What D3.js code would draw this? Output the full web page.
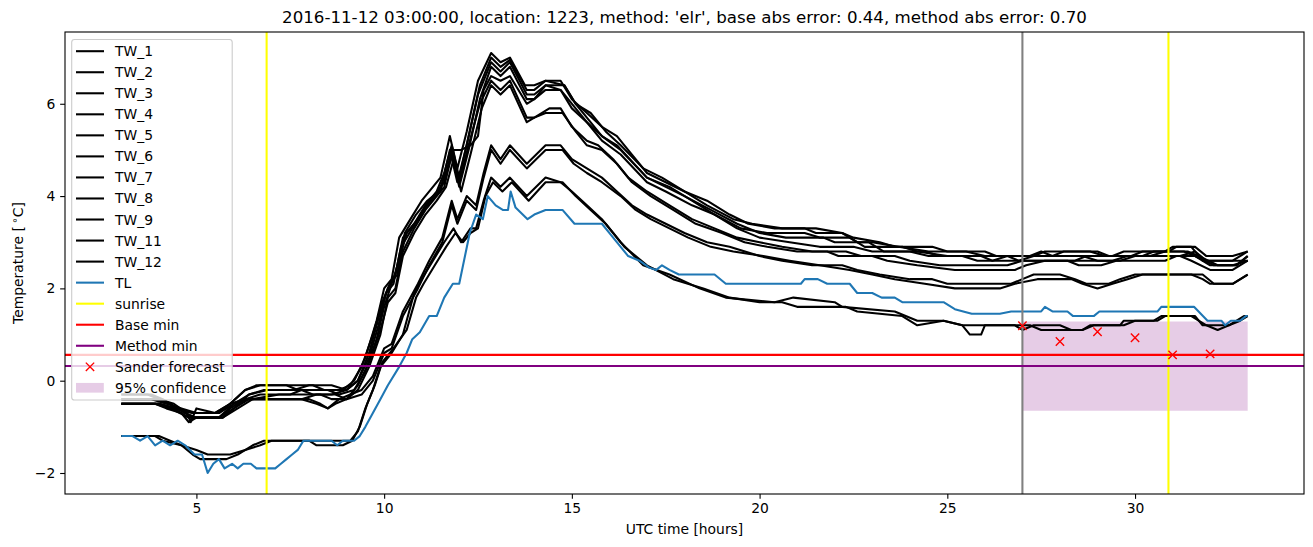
<!DOCTYPE html>
<html><head><meta charset="utf-8">
<script src="https://cdn.jsdelivr.net/npm/d3@7"></script>
<style>body{margin:0;background:#fff}svg{display:block}text{font-family:"DejaVu Sans",sans-serif;fill:#000}</style>
</head><body><svg id="c" width="1313" height="547"></svg>
<script>
// ---------------- data ----------------
const twNames = ["TW_1","TW_2","TW_3","TW_4","TW_5","TW_6","TW_7","TW_8","TW_9","TW_11","TW_12"];
const TW_1 = [[3,-0.3],[3.8,-0.3],[4.1,-0.4],[4.5,-0.6],[4.9,-0.7],[5.6,-0.7],[5.9,-0.5],[6.3,-0.2],[6.7,-0.1],[8.1,-0.1],[8.4,-0.2],[8.9,-0.2],[9.2,0.0],[9.5,0.5],[9.8,1.3],[10.0,2.0],[10.2,2.2],[10.4,3.1],[10.7,3.5],[11.0,3.9],[11.3,4.2],[11.5,4.4],[11.75,5.3],[11.95,4.6],[12.2,5.4],[12.5,6.5],[12.85,7.1],[13.1,6.9],[13.35,7.0],[13.75,6.4],[14.0,6.4],[14.3,6.5],[14.7,6.5],[15.0,6.1],[15.4,5.8],[15.8,5.5],[16.2,5.3],[16.6,4.9],[17.0,4.5],[17.5,4.3],[18.0,4.1],[18.6,3.8],[19.3,3.5],[19.8,3.4],[20.6,3.3],[21.5,3.3],[22.2,3.2],[22.6,3.0],[23.0,3.0],[23.7,2.9],[24.5,2.8],[25.5,2.8],[26.0,2.7],[27.2,2.7],[27.5,2.8],[27.8,2.7],[29.4,2.7],[29.7,2.8],[30.8,2.8],[31.0,2.9],[31.5,2.9],[31.8,2.6],[32.6,2.6],[33.0,2.8]];
const TW_2 = [[3,-0.4],[3.9,-0.4],[4.3,-0.5],[4.7,-0.7],[5.0,-0.8],[5.7,-0.8],[6.0,-0.6],[6.4,-0.3],[6.8,-0.2],[7.6,-0.2],[8.0,-0.1],[8.6,-0.1],[9.0,-0.2],[9.3,0.0],[9.6,0.6],[9.9,1.5],[10.1,2.0],[10.3,2.3],[10.5,3.1],[10.8,3.4],[11.1,3.8],[11.4,4.1],[11.6,4.5],[11.8,5.1],[12.0,4.4],[12.25,5.3],[12.55,6.4],[12.85,7.0],[13.1,6.8],[13.35,6.95],[13.8,6.3],[14.0,6.3],[14.3,6.5],[14.8,6.4],[15.1,6.0],[15.4,5.7],[15.8,5.3],[16.3,5.0],[17.0,4.4],[17.6,4.2],[18.2,3.9],[18.8,3.6],[19.5,3.3],[20.2,3.2],[21.2,3.2],[21.6,3.1],[22.4,3.1],[22.8,2.9],[23.8,2.9],[24.2,2.8],[25.0,2.7],[26.6,2.7],[26.9,2.6],[28.4,2.6],[28.7,2.7],[30.2,2.7],[30.5,2.8],[31.4,2.8],[31.7,2.7],[32.2,2.5],[32.7,2.5],[33.0,2.7]];
const TW_3 = [[3,-0.5],[4.0,-0.5],[4.4,-0.6],[4.8,-0.8],[5.6,-0.8],[5.9,-0.6],[6.3,-0.4],[6.7,-0.3],[7.5,-0.3],[7.8,-0.2],[8.5,-0.2],[8.8,-0.3],[9.2,-0.2],[9.5,0.2],[9.8,0.9],[10.0,1.6],[10.2,2.1],[10.4,2.6],[10.6,3.2],[10.9,3.5],[11.2,3.9],[11.5,4.1],[11.75,5.0],[11.95,4.3],[12.2,5.1],[12.5,6.2],[12.85,6.9],[13.1,6.7],[13.35,6.9],[13.8,6.2],[14.0,6.2],[14.3,6.4],[14.7,6.3],[15.1,5.9],[15.4,5.6],[15.8,5.3],[16.2,5.1],[17.0,4.4],[17.5,4.2],[18.0,4.0],[18.7,3.7],[19.4,3.4],[20.0,3.2],[20.7,3.1],[21.7,3.1],[22.0,3.0],[22.9,3.0],[23.3,2.8],[24.4,2.8],[24.8,2.7],[25.9,2.7],[26.2,2.6],[26.9,2.6],[27.3,2.7],[28.6,2.7],[29.0,2.6],[29.6,2.6],[30.0,2.7],[31.2,2.7],[31.6,2.8],[31.9,2.6],[32.8,2.6],[33.0,2.6]];
const TW_4 = [[3,-0.5],[3.9,-0.5],[4.2,-0.6],[4.6,-0.7],[4.8,-0.9],[5.0,-0.8],[5.6,-0.8],[6.0,-0.5],[6.4,-0.4],[7.8,-0.4],[8.2,-0.3],[8.7,-0.3],[9.0,-0.4],[9.3,-0.2],[9.6,0.3],[9.9,1.0],[10.1,1.8],[10.3,2.0],[10.5,2.8],[10.8,3.3],[11.1,3.7],[11.4,4.0],[11.6,4.2],[11.8,4.9],[12.0,4.2],[12.25,5.0],[12.55,6.1],[12.85,6.8],[13.1,6.6],[13.35,6.8],[13.8,6.1],[14.0,6.1],[14.3,6.3],[14.7,6.3],[15.0,5.9],[15.4,5.6],[15.8,5.2],[16.3,4.9],[17.0,4.3],[17.5,4.1],[18.2,3.8],[18.8,3.6],[19.4,3.3],[20.0,3.1],[20.8,3.0],[21.6,2.9],[22.5,2.9],[23.0,2.8],[24.0,2.8],[24.5,2.7],[25.4,2.7],[25.8,2.6],[26.2,2.6],[26.6,2.7],[27.8,2.7],[28.1,2.8],[29.0,2.8],[29.3,2.7],[30.4,2.7],[30.8,2.8],[31.3,2.8],[31.6,2.7],[32.1,2.5],[32.7,2.5],[33.0,2.7]];
const TW_5 = [[3,-0.3],[3.7,-0.3],[4.0,-0.4],[4.4,-0.5],[4.75,-0.7],[4.85,-0.9],[5.0,-0.6],[5.5,-0.7],[5.9,-0.5],[6.3,-0.2],[6.6,-0.1],[7.4,-0.1],[7.7,-0.2],[8.8,-0.2],[9.1,-0.1],[9.4,0.3],[9.7,1.0],[9.95,1.7],[10.15,2.1],[10.35,2.3],[10.55,3.2],[10.85,3.6],[11.15,3.9],[11.45,4.1],[11.7,4.6],[11.85,5.0],[12.05,5.0],[12.3,5.1],[12.5,5.3],[12.65,6.3],[12.85,6.6],[13.1,6.5],[13.35,6.6],[13.8,6.0],[14.0,6.1],[14.3,6.4],[14.8,6.4],[15.1,6.0],[15.5,5.8],[15.9,5.4],[16.3,5.1],[16.9,4.6],[17.4,4.4],[18.0,4.1],[18.6,3.9],[19.2,3.6],[19.7,3.4],[20.4,3.3],[21.2,3.3],[21.5,3.2],[22.2,3.2],[22.5,3.1],[23.2,3.0],[23.6,2.9],[24.6,2.9],[25.0,2.8],[26.0,2.8],[26.3,2.7],[27.3,2.7],[27.6,2.8],[28.8,2.8],[29.2,2.7],[29.9,2.7],[30.2,2.8],[30.9,2.8],[31.1,2.9],[31.6,2.9],[31.9,2.7],[32.6,2.7],[33.0,2.8]];
const TW_6 = [[3,-0.4],[3.8,-0.4],[4.2,-0.5],[4.6,-0.6],[5.0,-0.7],[5.6,-0.7],[6.0,-0.5],[6.4,-0.3],[6.9,-0.2],[7.8,-0.2],[8.1,-0.3],[8.6,-0.3],[9.0,-0.2],[9.3,0.0],[9.6,0.5],[9.85,1.2],[10.05,1.9],[10.25,2.1],[10.45,2.9],[10.75,3.3],[11.05,3.7],[11.35,4.0],[11.6,4.3],[11.8,5.0],[12.0,4.3],[12.25,5.1],[12.55,6.0],[12.85,6.5],[13.1,6.3],[13.35,6.5],[13.8,5.7],[14.0,5.7],[14.4,5.9],[14.7,5.9],[15.0,5.5],[15.4,5.2],[15.7,5.1],[16.1,4.8],[16.5,4.4],[17.0,4.1],[17.6,3.8],[18.2,3.5],[18.8,3.3],[19.4,3.1],[20.0,3.0],[20.6,2.9],[21.4,2.8],[22.3,2.8],[22.7,2.7],[23.6,2.7],[24.0,2.6],[24.8,2.5],[25.6,2.5],[26.6,2.5],[27.0,2.6],[28.2,2.6],[28.5,2.5],[29.1,2.5],[29.5,2.6],[30.8,2.6],[31.1,2.7],[31.6,2.7],[32.0,2.5],[32.6,2.5],[33.0,2.6]];
const TW_7 = [[3,-0.5],[4.0,-0.5],[4.5,-0.6],[4.9,-0.8],[5.7,-0.8],[6.1,-0.6],[6.5,-0.4],[7.2,-0.3],[8.3,-0.3],[8.6,-0.4],[9.0,-0.4],[9.3,-0.1],[9.6,0.4],[9.9,1.1],[10.1,1.7],[10.3,1.9],[10.5,2.7],[10.8,3.2],[11.1,3.6],[11.4,3.9],[11.65,4.2],[11.85,4.8],[12.05,4.1],[12.3,4.9],[12.6,5.9],[12.85,6.4],[13.1,6.2],[13.35,6.4],[13.8,5.6],[14.0,5.7],[14.3,5.8],[14.75,5.8],[15.1,5.4],[15.4,5.1],[15.8,5.0],[16.2,4.7],[16.6,4.3],[17.1,4.0],[17.7,3.7],[18.3,3.4],[19.0,3.2],[19.6,3.0],[20.2,2.9],[21.0,2.8],[21.8,2.8],[22.1,2.7],[23.0,2.7],[23.4,2.6],[24.2,2.5],[25.2,2.4],[26.8,2.4],[27.1,2.5],[27.6,2.6],[29.4,2.6],[29.8,2.7],[31.2,2.7],[31.5,2.6],[32.0,2.4],[32.6,2.4],[33.0,2.6]];
const TW_8 = [[3,-0.5],[3.9,-0.5],[4.3,-0.6],[4.8,-0.8],[5.6,-0.8],[6.0,-0.6],[6.4,-0.4],[7.2,-0.4],[8.0,-0.4],[8.3,-0.5],[8.5,-0.6],[8.8,-0.4],[9.1,-0.3],[9.4,-0.2],[9.7,0.1],[10.0,0.7],[10.2,0.8],[10.5,1.5],[10.9,2.1],[11.2,2.6],[11.55,3.1],[11.8,3.9],[11.95,3.5],[12.2,4.0],[12.45,3.8],[12.65,4.5],[12.85,5.1],[13.1,4.8],[13.35,5.1],[13.8,4.7],[14.3,5.1],[14.7,5.1],[15.0,4.8],[15.4,4.6],[15.8,4.4],[16.2,4.1],[16.6,3.8],[17.0,3.6],[17.5,3.4],[18.0,3.2],[18.6,3.0],[19.2,2.9],[20.0,2.7],[20.6,2.6],[21.4,2.5],[22.2,2.5],[22.6,2.4],[23.2,2.3],[24.0,2.2],[24.6,2.2],[25.0,2.1],[26.7,2.1],[27.0,2.2],[27.3,2.3],[28.0,2.3],[28.4,2.2],[28.7,2.1],[29.3,2.1],[29.6,2.2],[30.0,2.3],[31.5,2.3],[31.8,2.2],[32.0,2.1],[32.6,2.1],[33.0,2.3]];
const TW_9 = [[3,-0.5],[4.0,-0.5],[4.4,-0.6],[4.9,-0.7],[5.5,-0.7],[5.9,-0.5],[6.3,-0.4],[7.8,-0.4],[8.2,-0.5],[8.5,-0.6],[8.7,-0.5],[9.0,-0.4],[9.4,-0.3],[9.7,0.0],[10.0,0.6],[10.2,0.7],[10.5,1.4],[10.9,2.0],[11.2,2.5],[11.55,3.0],[11.8,3.8],[11.95,3.4],[12.2,3.9],[12.45,3.7],[12.65,4.4],[12.85,5.0],[13.1,4.7],[13.35,5.0],[13.8,4.6],[14.3,5.0],[14.75,5.0],[15.05,4.7],[15.4,4.5],[15.8,4.3],[16.3,4.0],[16.7,3.7],[17.1,3.5],[17.6,3.3],[18.1,3.1],[18.7,2.9],[19.3,2.8],[20.1,2.7],[20.8,2.6],[21.6,2.5],[22.4,2.4],[23.0,2.3],[23.6,2.2],[24.4,2.1],[25.2,2.0],[26.4,2.0],[26.8,2.1],[27.4,2.2],[28.3,2.2],[28.6,2.1],[29.0,2.0],[29.4,2.1],[29.8,2.2],[30.2,2.3],[31.8,2.3],[32.1,2.1],[32.6,2.1],[33.0,2.3]];
const TW_11 = [[3,-1.2],[3.9,-1.2],[4.1,-1.3],[4.6,-1.4],[4.9,-1.6],[5.1,-1.7],[5.8,-1.7],[6.1,-1.6],[6.5,-1.4],[6.8,-1.3],[9.1,-1.3],[9.3,-1.1],[9.5,-0.6],[9.7,-0.2],[9.9,0.3],[10.2,0.6],[10.5,1.0],[10.8,1.9],[11.0,2.2],[11.3,2.6],[11.6,3.0],[11.85,3.3],[12.05,3.0],[12.3,3.3],[12.45,3.3],[12.65,3.9],[12.85,4.4],[13.1,4.2],[13.35,4.4],[13.8,4.0],[14.3,4.4],[14.7,4.3],[15.0,4.1],[15.4,3.8],[15.8,3.5],[16.3,3.0],[16.9,2.5],[17.6,2.3],[18.4,2.0],[19.1,1.8],[20.4,1.7],[20.9,1.8],[22.0,1.7],[22.2,1.6],[23.6,1.5],[24.2,1.3],[24.9,1.3],[25.4,1.2],[26.8,1.2],[27.0,1.1],[27.3,1.2],[28.0,1.2],[28.3,1.1],[28.6,1.1],[28.8,1.2],[29.6,1.2],[29.7,1.3],[30.5,1.3],[30.7,1.4],[31.6,1.4],[31.8,1.2],[32.5,1.2],[32.9,1.4],[33.0,1.4]];
const TW_12 = [[3,-1.2],[4.0,-1.2],[4.3,-1.3],[4.6,-1.4],[5.0,-1.5],[5.3,-1.6],[5.9,-1.6],[6.3,-1.5],[6.7,-1.4],[7.0,-1.3],[8.0,-1.3],[8.2,-1.4],[8.9,-1.4],[9.15,-1.3],[9.35,-1.0],[9.55,-0.5],[9.75,-0.1],[9.95,0.4],[10.25,0.7],[10.6,1.1],[10.85,1.8],[11.05,2.1],[11.35,2.5],[11.65,2.9],[11.9,3.2],[12.1,3.0],[12.3,3.2],[12.5,3.3],[12.7,4.0],[12.9,4.3],[13.15,4.1],[13.4,4.3],[13.85,3.9],[14.3,4.3],[14.75,4.3],[15.1,4.0],[15.5,3.7],[15.9,3.4],[16.4,2.9],[17.0,2.5],[17.7,2.2],[18.5,2.0],[19.2,1.8],[20.0,1.7],[20.6,1.7],[21.0,1.6],[22.3,1.6],[22.6,1.5],[23.8,1.4],[24.2,1.2],[24.9,1.3],[25.4,1.2],[25.6,1.0],[25.9,1.0],[26.0,1.2],[27.2,1.2],[27.5,1.1],[28.6,1.1],[28.9,1.2],[29.7,1.2],[30.0,1.3],[30.6,1.3],[30.8,1.4],[31.5,1.4],[31.9,1.2],[32.2,1.1],[32.5,1.2],[32.8,1.3],[33.0,1.4]];
const TL = [[3,-1.2],[3.3,-1.2],[3.5,-1.3],[3.7,-1.2],[3.9,-1.4],[4.1,-1.3],[4.3,-1.4],[4.5,-1.3],[4.7,-1.4],[4.95,-1.6],[5.15,-1.6],[5.3,-2.0],[5.45,-1.8],[5.6,-1.7],[5.75,-1.9],[5.95,-1.8],[6.1,-1.9],[6.25,-1.8],[6.45,-1.8],[6.6,-1.9],[7.1,-1.9],[7.25,-1.8],[7.4,-1.7],[7.55,-1.6],[7.7,-1.5],[7.85,-1.3],[8.6,-1.3],[8.75,-1.4],[8.9,-1.3],[9.2,-1.3],[9.35,-1.2],[9.5,-1.0],[9.7,-0.7],[9.9,-0.4],[10.1,-0.1],[10.4,0.3],[10.6,0.6],[10.75,0.9],[10.95,1.05],[11.2,1.4],[11.4,1.4],[11.6,1.8],[11.83,2.1],[12.0,2.1],[12.28,3.2],[12.45,3.6],[12.63,3.5],[12.76,4.0],[12.97,3.8],[13.16,3.7],[13.3,3.7],[13.37,4.1],[13.5,3.75],[13.82,3.5],[14.0,3.6],[14.3,3.7],[14.75,3.7],[15.07,3.4],[15.8,3.4],[16.1,3.1],[16.5,2.7],[16.8,2.6],[17.06,2.45],[17.25,2.4],[17.4,2.5],[17.6,2.4],[17.85,2.3],[18.8,2.3],[19.1,2.1],[21.1,2.1],[21.2,2.2],[21.55,2.2],[21.8,2.1],[22.4,2.1],[22.6,1.9],[23.0,1.9],[23.25,1.8],[23.6,1.8],[23.8,1.7],[24.9,1.7],[25.2,1.55],[25.65,1.45],[26.4,1.45],[26.7,1.5],[27.5,1.5],[27.6,1.6],[27.8,1.5],[28.2,1.5],[28.35,1.4],[28.9,1.4],[29.05,1.5],[30.6,1.5],[30.7,1.6],[31.57,1.6],[31.93,1.3],[32.3,1.3],[32.4,1.2],[32.55,1.3],[32.8,1.3],[32.95,1.4],[33.0,1.4]];
const sunriseHours = [6.87, 30.89];
const forecastStart = 27;
const sanderHours = [27, 28, 29, 30, 31, 32];
const sanderValues = [1.19, 0.85, 1.06, 0.93, 0.56, 0.58];
const confHours = [27, 33];
const confLower = [-0.65, -0.65];
const confUpper = [1.28, 1.28];
const baseMin = 0.56;
const methodMin = 0.32;
const xTicks = [5, 10, 15, 20, 25, 30];
const yTicks = [-2, 0, 2, 4, 6];
const titleText = "2016-11-12 03:00:00, location: 1223, method: 'elr', base abs error: 0.44, method abs error: 0.70";
const twSeries = [TW_1, TW_2, TW_3, TW_4, TW_5, TW_6, TW_7, TW_8, TW_9, TW_11, TW_12];

// ---------------- chart ----------------
const L = 65, R = 1304, T = 32, B = 494;
const LW = 2.08;
const svg = d3.select("#c");
svg.append("rect").attr("width", 1313).attr("height", 547).attr("fill", "#fff");
const x = d3.scaleLinear().domain([1.5, 34.5]).range([L, R]);
const y = d3.scaleLinear().domain([-2.455, 7.555]).range([B, T]);

svg.append("clipPath").attr("id", "clip").append("rect")
  .attr("x", L).attr("y", T).attr("width", R - L).attr("height", B - T);
const plot = svg.append("g").attr("clip-path", "url(#clip)");

// confidence band (collection, below lines)
const band = confHours.map((h, i) => ({h, lo: confLower[i], hi: confUpper[i]}));
plot.append("path").datum(band)
  .attr("d", d3.area().x(d => x(d.h)).y0(d => y(d.lo)).y1(d => y(d.hi)))
  .attr("fill", "purple").attr("fill-opacity", 0.2);

const line = d3.line().x(d => x(d[0])).y(d => y(d[1]));
twSeries.forEach(s => {
  plot.append("path").datum(s).attr("d", line).attr("fill", "none")
    .attr("stroke", "#000").attr("stroke-width", LW).attr("stroke-linejoin", "round");
});
plot.append("path").datum(TL).attr("d", line).attr("fill", "none")
  .attr("stroke", "#1f77b4").attr("stroke-width", LW).attr("stroke-linejoin", "round");

// forecast start (gray)
plot.append("line").attr("x1", x(forecastStart)).attr("x2", x(forecastStart))
  .attr("y1", T).attr("y2", B).attr("stroke", "#808080").attr("stroke-width", LW);
// sunrise
sunriseHours.forEach(h => {
  plot.append("line").attr("x1", x(h)).attr("x2", x(h)).attr("y1", T).attr("y2", B)
    .attr("stroke", "#ffff00").attr("stroke-width", LW);
});
// base / method min
plot.append("line").attr("x1", L).attr("x2", R).attr("y1", y(baseMin)).attr("y2", y(baseMin))
  .attr("stroke", "#ff0000").attr("stroke-width", LW);
plot.append("line").attr("x1", L).attr("x2", R).attr("y1", y(methodMin)).attr("y2", y(methodMin))
  .attr("stroke", "#800080").attr("stroke-width", LW);

// sander forecast x markers
const ms = 4.17;
function xMarker(g, cx, cy) {
  g.append("path").attr("d", `M${cx-ms},${cy-ms}L${cx+ms},${cy+ms}M${cx-ms},${cy+ms}L${cx+ms},${cy-ms}`)
    .attr("stroke", "#ff0000").attr("stroke-width", 1.4).attr("fill", "none");
}
sanderHours.forEach((h, i) => xMarker(plot, x(h), y(sanderValues[i])));

// frame
svg.append("rect").attr("x", L).attr("y", T).attr("width", R - L).attr("height", B - T)
  .attr("fill", "none").attr("stroke", "#000").attr("stroke-width", 1.1);

// axes
const fs = 13.89;
const xAxis = svg.append("g").attr("transform", `translate(0,${B})`)
  .call(d3.axisBottom(x).tickValues(xTicks).tickSize(4.86).tickPadding(4.2).tickFormat(d3.format("d")));
const yAxis = svg.append("g").attr("transform", `translate(${L},0)`)
  .call(d3.axisLeft(y).tickValues(yTicks).tickSize(4.86).tickPadding(4.86).tickFormat(d3.format("d")));
[xAxis, yAxis].forEach(a => {
  a.select(".domain").remove();
  a.selectAll(".tick line").attr("stroke", "#000").attr("stroke-width", 1.1);
  a.selectAll(".tick text").attr("font-family", "DejaVu Sans").attr("font-size", fs).attr("fill", "#000");
});

// labels
svg.append("text").attr("x", (L + R) / 2).attr("y", 534).attr("text-anchor", "middle")
  .attr("font-size", fs).text("UTC time [hours]");
const yl = svg.append("text").attr("transform", `translate(23,${(T + B) / 2}) rotate(-90)`)
  .attr("text-anchor", "middle").attr("font-size", fs);
yl.append("tspan").text("Temperature [\u2009");
yl.append("tspan").attr("dy", -5).attr("font-size", 10).text("∘");
yl.append("tspan").attr("dy", 5).text("C]");
svg.append("text").attr("x", (L + R) / 2).attr("y", 23).attr("text-anchor", "middle")
  .attr("font-size", 16.67).text(titleText);

// legend
const legendItems = twNames.map(n => ({label: n, type: "line", color: "#000"}))
  .concat([
    {label: "TL", type: "line", color: "#1f77b4"},
    {label: "sunrise", type: "line", color: "#ffff00"},
    {label: "Base min", type: "line", color: "#ff0000"},
    {label: "Method min", type: "line", color: "#800080"},
    {label: "Sander forecast", type: "marker", color: "#ff0000"},
    {label: "95% confidence", type: "patch", color: "purple"}
  ]);
const lg = svg.append("g");
lg.append("rect").attr("x", 71.7).attr("y", 39.5).attr("width", 160.5).attr("height", 360.5)
  .attr("rx", 2.8).attr("fill", "#fff").attr("fill-opacity", 0.8)
  .attr("stroke", "#cccccc").attr("stroke-width", 1.1);
const rowY = i => 51.2 + 21.04 * i;
legendItems.forEach((it, i) => {
  const cy = rowY(i);
  if (it.type === "line") {
    lg.append("line").attr("x1", 76).attr("x2", 104).attr("y1", cy).attr("y2", cy)
      .attr("stroke", it.color).attr("stroke-width", LW);
  } else if (it.type === "marker") {
    xMarker(lg, 90, cy);
  } else {
    lg.append("rect").attr("x", 76).attr("y", cy - 4.9).attr("width", 27.8).attr("height", 9.7)
      .attr("fill", it.color).attr("fill-opacity", 0.2);
  }
  lg.append("text").attr("x", 115).attr("y", cy + 5).attr("font-size", fs).text(it.label);
});
</script></body></html>
